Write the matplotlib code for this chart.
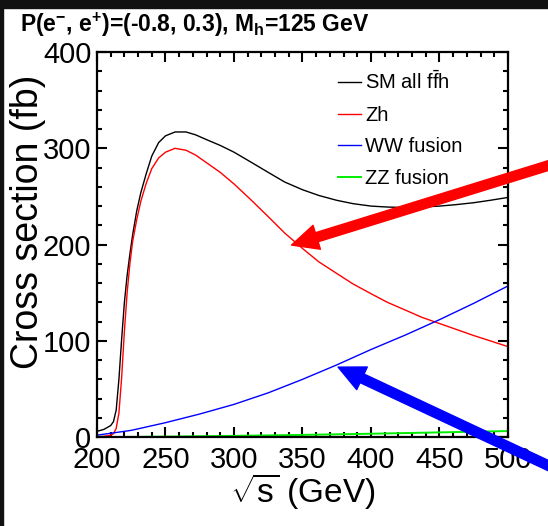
import numpy as np
import matplotlib
matplotlib.use("Agg")
import matplotlib.pyplot as plt
from matplotlib.patches import Rectangle

plt.rcParams['font.family'] = ['Liberation Sans', 'DejaVu Sans']
plt.rcParams['mathtext.fontset'] = 'custom'
plt.rcParams['mathtext.rm'] = 'Liberation Sans'
plt.rcParams['mathtext.it'] = 'Liberation Sans:italic'
plt.rcParams['mathtext.bf'] = 'Liberation Sans:bold'

# sqrt(s) in GeV, dense near threshold for Zh and total
sqrt_s_fine = [200, 205, 210, 212, 214, 216, 218, 220, 222, 224, 226, 229, 232, 236,
               240, 245, 250, 257, 265, 272, 280, 290, 300, 312, 325, 337, 350,
               362, 375, 387, 400, 412, 425, 437, 450, 462, 475, 487, 500]
sm_all = [6, 8, 12, 16, 28, 60, 102, 140, 168, 190, 210, 235, 254, 274,
          292, 306, 313, 317, 317, 314, 309, 303, 296, 286, 275, 265, 257,
          251, 246, 242.5, 240, 239, 238.5, 239, 240, 241.5, 243.5, 246, 249]
zh = [0.3, 0.8, 2, 3.5, 9, 25, 62, 110, 150, 180, 203, 226, 245, 264,
      279, 290, 296, 300, 298, 293, 285, 275, 263, 247, 229, 212, 196,
      182, 170, 159, 149, 140, 132, 124.5, 118, 112, 105.5, 100, 94]

sqrt_s_coarse = [200, 225, 250, 275, 300, 325, 350, 375, 400, 425, 450, 475, 500]
ww_fusion = [2, 7, 15, 24, 34, 46, 60, 75, 91, 106, 122, 139, 157]
zz_fusion = [0, 0.2, 0.5, 0.9, 1.3, 1.8, 2.3, 2.9, 3.5, 4.2, 4.9, 5.6, 6.3]

# annotation arrows (tail -> tip), data coordinates
red_arrow = ((545, 289), (342, 199.5))
blue_arrow = ((545, -40), (376, 72.7))

fig = plt.figure(figsize=(5.48, 5.26), dpi=100)
ax = fig.add_axes([0.177, 0.169, 0.750, 0.732])

ax.plot(sqrt_s_fine, sm_all, color='black', lw=1.0, label=r'SM all f$\bar{\mathrm{f}}$h')
ax.plot(sqrt_s_fine, zh, color='#ff0000', lw=1.0, label='Zh')
ax.plot(sqrt_s_coarse, ww_fusion, color='#0000ff', lw=1.0, label='WW fusion')
ax.plot(sqrt_s_coarse, zz_fusion, color='#00ee00', lw=1.4, label='ZZ fusion')

ax.set_xlim(200, 500)
ax.set_ylim(0, 400)
ax.set_xticks(np.arange(200, 501, 50))
ax.set_xticks(np.arange(200, 501, 10), minor=True)
ax.set_yticks(np.arange(0, 401, 100))
ax.set_yticks(np.arange(0, 401, 20), minor=True)
ax.tick_params(which='both', direction='in', top=True, right=True, width=1.5)
ax.tick_params(which='major', length=7, labelsize=21)
ax.tick_params(axis='x', which='major', pad=6.5)
ax.tick_params(axis='y', which='major', pad=4)
ax.tick_params(which='minor', length=3.5)
for sp in ax.spines.values():
    sp.set_linewidth(1.6)

ax.set_xlabel(r'$\sqrt{\mathrm{s}}$ (GeV)', fontsize=24)
ax.xaxis.set_label_coords(0.5, -0.089)
ax.xaxis.label.set_va('top')
ax.set_ylabel('Cross section (fb)', fontsize=27)
ax.yaxis.set_label_coords(-0.124, 0.56)

ax.legend(loc='upper left', bbox_to_anchor=(0.586, 0.952), frameon=False,
          fontsize=14.5, handlelength=1.15, handletextpad=0.2, labelspacing=0.62,
          borderpad=0, borderaxespad=0)

for (tail, tip), col in [(red_arrow, '#ff0000'), (blue_arrow, '#0000ff')]:
    ax.annotate('', xy=tip, xytext=tail, annotation_clip=False,
                arrowprops=dict(arrowstyle='simple,head_length=0.95,head_width=0.9,tail_width=0.34',
                                color=col, mutation_scale=20, shrinkA=0, shrinkB=0))

fig.text(0.036, 0.939, r'P(e$^{\mathbf{-}}$, e$^{\mathbf{+}}$)=(-0.8, 0.3), M$_{\mathbf{h}}$=125 GeV',
         fontsize=16.5, fontweight='bold', va='baseline', ha='left')

# dark screenshot border
fig.patches.append(Rectangle((0, 0.985), 1, 0.015, transform=fig.transFigure,
                             color='#111111', zorder=10))
fig.patches.append(Rectangle((0, 0), 0.006, 1, transform=fig.transFigure,
                             color='#111111', zorder=10))

fig.savefig('out.png', dpi=100)
